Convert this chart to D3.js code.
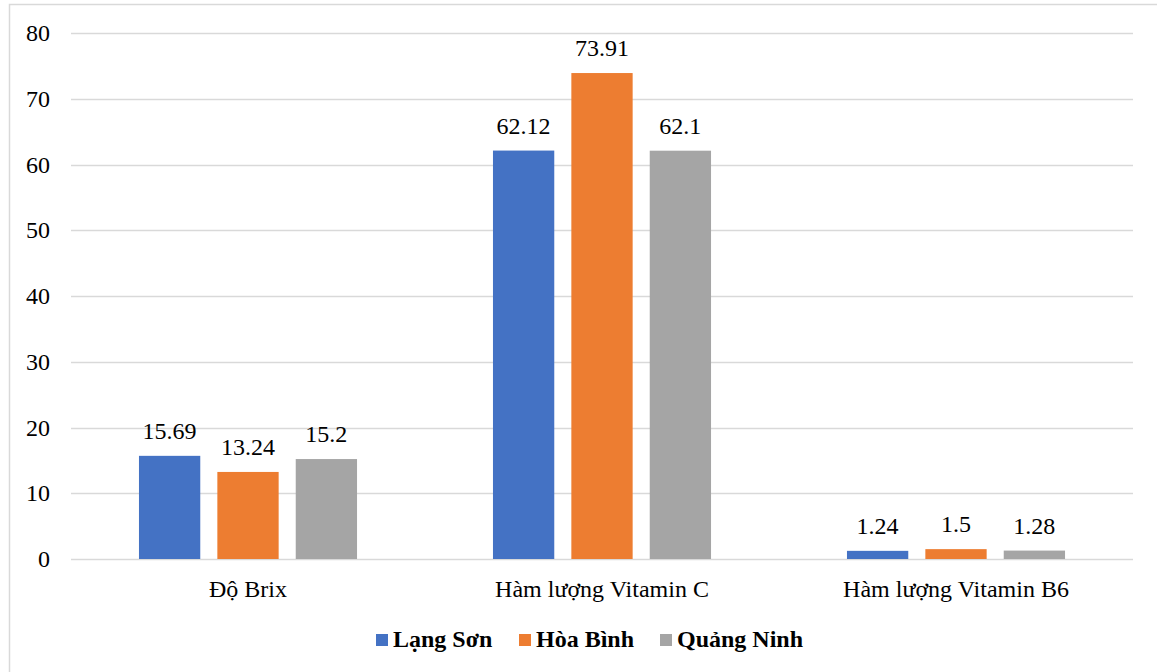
<!DOCTYPE html>
<html>
<head>
<meta charset="utf-8">
<script src="https://cdn.jsdelivr.net/npm/d3@7"></script>
<style>
  html, body { margin: 0; padding: 0; background: #fff; }
  svg text { font-family: "Liberation Serif", "Times New Roman", serif; }
</style>
</head>
<body>
<svg id="chart" width="1157" height="672"></svg>
<script>
// Categories, series and tick labels
const categories = ["Độ Brix", "Hàm lượng Vitamin C", "Hàm lượng Vitamin B6"];
const seriesNames = ["Lạng Sơn", "Hòa Bình", "Quảng Ninh"];
const langSon = [15.69, 62.12, 1.24];
const hoaBinh = [13.24, 73.91, 1.5];
const quangNinh = [15.2, 62.1, 1.28];
const yTicks = [0, 10, 20, 30, 40, 50, 60, 70, 80];
const colors = ["#4472C4", "#ED7D31", "#A5A5A5"];

const seriesValues = [langSon, hoaBinh, quangNinh];
const FONT = "'Liberation Serif', 'Times New Roman', serif";
const FS = 24;

const svg = d3.select("#chart");
const W = 1157, H = 672;

// Outer frame
svg.append("rect")
  .attr("x", 9.5).attr("y", 4.5)
  .attr("width", W).attr("height", H)
  .attr("fill", "#fff").attr("stroke", "#d9d9d9").attr("stroke-width", 1.5);

const plot = { left: 71, right: 1133, top: 33, bottom: 559 };

const x0 = d3.scaleBand()
  .domain(categories)
  .range([plot.left, plot.right])
  .paddingInner(0.384)
  .paddingOuter(0.192);

const x1 = d3.scaleBand()
  .domain(seriesNames)
  .range([0, x0.bandwidth()])
  .paddingInner(0.218);

const y = d3.scaleLinear().domain([0, 80]).range([plot.bottom, plot.top]);

// Gridlines
svg.append("g")
  .selectAll("line")
  .data(yTicks)
  .join("line")
  .attr("x1", plot.left).attr("x2", plot.right)
  .attr("y1", d => Math.round(y(d)) + 0.5).attr("y2", d => Math.round(y(d)) + 0.5)
  .attr("stroke", "#d9d9d9").attr("stroke-width", 1.3);

// Y axis labels
const yAxis = svg.append("g")
  .attr("transform", `translate(${plot.left - 21},0)`)
  .call(d3.axisLeft(y).tickValues(yTicks).tickSize(0).tickPadding(0));
yAxis.attr("font-family", FONT).attr("font-size", FS);
yAxis.select(".domain").remove();
yAxis.selectAll("text").attr("fill", "#000");

// Bars
const groups = svg.append("g")
  .selectAll("g")
  .data(categories)
  .join("g")
  .attr("transform", d => `translate(${x0(d)},0)`);

const rows = (c, ci) => seriesNames.map((s, si) => ({ s, si, v: seriesValues[si][ci] }));

groups.selectAll("rect")
  .data(rows)
  .join("rect")
  .attr("x", d => x1(d.s))
  .attr("width", x1.bandwidth())
  .attr("y", d => y(d.v))
  .attr("height", d => y(0) - y(d.v))
  .attr("fill", d => colors[d.si]);

// Value labels
groups.selectAll("text.val")
  .data(rows)
  .join("text")
  .attr("class", "val")
  .attr("x", d => x1(d.s) + x1.bandwidth() / 2)
  .attr("y", d => y(d.v) - 17)
  .attr("text-anchor", "middle")
  .attr("font-family", FONT)
  .attr("font-size", FS)
  .attr("fill", "#000")
  .text(d => d.v);

// Category axis
const xAxis = svg.append("g")
  .attr("transform", `translate(0,${plot.bottom})`)
  .call(d3.axisBottom(x0).tickSize(0).tickPadding(21));
xAxis.attr("font-family", FONT).attr("font-size", FS);
xAxis.select(".domain").remove();
xAxis.selectAll("text").attr("fill", "#000");

// Legend
const legendItems = [
  { name: seriesNames[0], x: 376 },
  { name: seriesNames[1], x: 519 },
  { name: seriesNames[2], x: 660 }
];
const legend = svg.append("g");
legendItems.forEach((it, i) => {
  legend.append("rect")
    .attr("x", it.x).attr("y", 634)
    .attr("width", 12).attr("height", 12)
    .attr("fill", colors[i]);
  legend.append("text")
    .attr("x", it.x + 17).attr("y", 647)
    .attr("font-family", FONT)
    .attr("font-size", FS)
    .attr("font-weight", "bold")
    .attr("fill", "#000")
    .text(it.name);
});
</script>
</body>
</html>
